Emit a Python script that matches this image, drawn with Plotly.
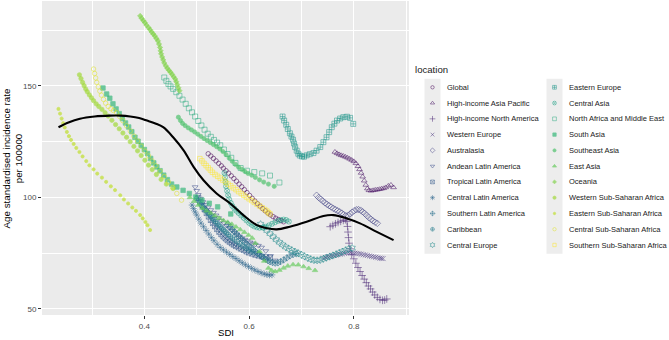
import plotly.graph_objects as go
from plotly.colors import sample_colorscale

# ---------------- data ----------------
locations = [
    "Global", "High-income Asia Pacific", "High-income North America", "Western Europe",
    "Australasia", "Andean Latin America", "Tropical Latin America", "Central Latin America",
    "Southern Latin America", "Caribbean", "Central Europe", "Eastern Europe", "Central Asia",
    "North Africa and Middle East", "South Asia", "Southeast Asia", "East Asia", "Oceania",
    "Western Sub-Saharan Africa", "Eastern Sub-Saharan Africa", "Central Sub-Saharan Africa",
    "Southern Sub-Saharan Africa",
]

sdi_global = [0.522,0.527,0.532,0.537,0.542,0.547,0.551,0.556,0.561,0.566,0.571,0.576,0.581,0.586,0.591,0.596,0.601,0.606,0.611,0.616,0.621,0.626,0.631,0.636,0.641,0.646,0.651,0.656,0.661,0.666]
asir_global = [119.6,118.6,117.5,116.4,115.3,114.2,113.1,112.0,110.9,109.7,108.5,107.3,106.0,104.8,103.5,102.2,100.9,99.6,98.4,97.2,96.1,95.0,94.0,93.0,92.2,91.4,90.7,90.1,89.6,89.1]

sdi_hiap = [0.764,0.768,0.772,0.776,0.780,0.784,0.788,0.792,0.796,0.800,0.804,0.808,0.811,0.814,0.817,0.820,0.823,0.826,0.829,0.833,0.837,0.841,0.845,0.849,0.853,0.857,0.861,0.866,0.871,0.876]
asir_hiap = [120.4,119.8,119.3,118.9,118.6,118.2,117.8,117.3,116.8,116.2,115.3,114.0,112.6,111.0,109.3,107.5,105.6,104.0,103.2,103.0,103.2,103.4,103.5,103.7,103.9,104.1,104.5,105.2,105.6,104.5]

sdi_hina = [0.755,0.760,0.765,0.770,0.775,0.780,0.784,0.787,0.788,0.789,0.790,0.791,0.793,0.796,0.800,0.804,0.808,0.812,0.816,0.820,0.824,0.828,0.832,0.836,0.840,0.845,0.850,0.855,0.859,0.863]
asir_hina = [86.9,87.5,88.2,88.8,89.3,89.7,90.0,89.2,87.0,84.5,82.0,79.5,77.0,74.5,72.5,70.5,68.6,66.8,65.0,63.4,61.8,60.3,59.0,57.6,56.3,55.2,54.3,53.9,54.0,54.5]

sdi_weu = [0.742,0.746,0.750,0.754,0.758,0.762,0.766,0.770,0.774,0.778,0.782,0.786,0.790,0.794,0.798,0.802,0.806,0.810,0.814,0.818,0.822,0.826,0.830,0.834,0.838,0.842,0.846,0.850,0.853,0.856]
asir_weu = [72.8,73.1,73.4,73.6,73.8,74.0,74.2,74.4,74.6,74.8,75.0,75.1,75.2,75.2,75.1,75.0,74.9,74.8,74.6,74.4,74.2,74.0,73.8,73.6,73.4,73.2,73.0,72.8,72.7,72.6]

sdi_aus = [0.729,0.733,0.737,0.741,0.745,0.749,0.753,0.757,0.761,0.765,0.769,0.773,0.777,0.781,0.785,0.789,0.793,0.797,0.801,0.805,0.809,0.813,0.817,0.821,0.825,0.829,0.833,0.837,0.841,0.845]
asir_aus = [101.0,100.0,99.2,98.4,97.6,96.9,96.3,95.7,95.1,94.6,94.1,93.6,93.0,92.3,91.8,91.9,92.6,93.4,94.1,94.5,94.6,94.3,93.6,92.8,91.9,91.0,90.2,89.5,88.9,88.4]

sdi_andean = [0.497,0.500,0.503,0.507,0.512,0.517,0.522,0.527,0.532,0.537,0.542,0.547,0.552,0.557,0.562,0.567,0.572,0.577,0.582,0.587,0.592,0.597,0.602,0.607,0.612,0.618,0.624,0.632,0.641,0.650]
asir_andean = [104.7,103.0,101.2,99.5,98.0,96.8,95.6,94.4,93.2,92.0,90.8,89.6,88.5,87.4,86.3,85.3,84.4,83.5,82.6,81.8,81.1,80.5,79.9,79.4,78.9,78.4,77.6,76.0,73.8,71.8]

sdi_tropical = [0.503,0.507,0.511,0.515,0.519,0.523,0.527,0.531,0.535,0.539,0.543,0.547,0.551,0.555,0.559,0.563,0.567,0.571,0.575,0.580,0.585,0.590,0.595,0.600,0.606,0.612,0.618,0.625,0.632,0.640]
asir_tropical = [99.8,98.0,96.3,94.6,93.0,91.4,89.9,88.5,87.1,85.8,84.6,83.5,82.5,81.6,80.8,80.1,79.4,78.8,78.2,77.6,77.0,76.4,75.8,75.3,74.8,74.3,73.9,73.5,73.2,73.0]

sdi_central_la = [0.491,0.494,0.497,0.500,0.504,0.508,0.513,0.518,0.523,0.528,0.533,0.539,0.545,0.551,0.557,0.563,0.569,0.575,0.581,0.587,0.593,0.599,0.605,0.611,0.617,0.623,0.629,0.634,0.639,0.644]
asir_central_la = [96.6,95.0,93.5,92.1,90.3,88.5,86.9,85.2,83.6,82.0,80.6,79.0,77.6,76.5,75.5,74.5,73.5,72.6,71.6,70.7,69.8,69.0,68.2,67.5,66.8,66.2,65.7,65.4,65.2,65.3]

sdi_southern_la = [0.560,0.564,0.568,0.572,0.576,0.580,0.584,0.588,0.592,0.596,0.600,0.604,0.608,0.612,0.616,0.620,0.624,0.628,0.632,0.636,0.640,0.645,0.650,0.655,0.660,0.666,0.672,0.678,0.684,0.690]
asir_southern_la = [88.0,86.8,85.7,84.6,83.6,82.6,81.7,80.8,79.9,79.0,78.2,77.4,76.6,75.8,75.0,74.3,73.6,72.9,72.3,71.7,71.2,70.8,70.6,70.7,71.2,72.0,72.9,73.8,74.4,74.8]

sdi_caribbean = [0.500,0.503,0.506,0.509,0.512,0.515,0.518,0.521,0.524,0.527,0.530,0.533,0.536,0.539,0.542,0.545,0.548,0.551,0.554,0.557,0.560,0.564,0.568,0.572,0.577,0.582,0.588,0.594,0.600,0.606]
asir_caribbean = [99.5,98.5,97.5,96.6,95.7,94.8,94.0,93.2,92.4,91.6,90.8,90.0,89.2,88.4,87.6,86.9,86.2,85.5,84.8,84.1,83.4,82.6,81.8,81.0,80.1,79.2,78.2,77.3,76.4,75.6]

sdi_central_eu = [0.622,0.628,0.634,0.640,0.646,0.652,0.658,0.664,0.670,0.676,0.682,0.688,0.694,0.700,0.706,0.712,0.718,0.724,0.730,0.736,0.742,0.748,0.754,0.760,0.766,0.772,0.778,0.784,0.790,0.797]
asir_central_eu = [88.0,86.6,85.2,83.8,82.4,81.1,79.9,78.8,77.8,77.0,76.3,75.6,75.0,74.3,73.6,72.9,72.3,71.9,71.8,72.0,72.5,73.0,73.5,74.0,74.5,75.1,75.7,76.3,76.9,77.3]

sdi_eastern_eu = [0.664,0.667,0.671,0.674,0.678,0.681,0.684,0.686,0.688,0.691,0.694,0.697,0.701,0.705,0.710,0.716,0.723,0.729,0.736,0.742,0.748,0.753,0.758,0.763,0.768,0.774,0.780,0.787,0.793,0.799]
asir_eastern_eu = [136.3,134.5,132.6,130.7,128.8,127.3,125.9,124.2,122.6,121.0,119.6,118.8,118.4,118.3,118.9,119.4,119.9,121.0,122.6,124.8,127.0,129.3,131.5,133.1,134.5,135.4,136.0,136.2,135.7,133.0]

sdi_central_asia = [0.553,0.554,0.555,0.556,0.558,0.560,0.562,0.565,0.568,0.572,0.576,0.580,0.585,0.590,0.595,0.600,0.605,0.610,0.615,0.620,0.626,0.632,0.638,0.644,0.650,0.656,0.661,0.666,0.671,0.676]
asir_central_asia = [111.0,109.0,107.0,105.0,103.0,101.0,99.2,97.6,96.2,95.0,94.0,93.0,91.9,90.8,89.7,88.6,87.7,87.0,86.6,86.4,86.5,86.9,87.5,88.2,88.9,89.5,89.9,90.1,89.9,89.2]

sdi_name = [0.438,0.442,0.446,0.450,0.455,0.461,0.467,0.473,0.479,0.485,0.491,0.497,0.503,0.509,0.515,0.521,0.527,0.533,0.539,0.545,0.552,0.559,0.566,0.574,0.584,0.596,0.610,0.625,0.640,0.658]
asir_name = [153.8,152.3,150.9,149.8,148.7,147.2,145.6,143.9,142.0,140.0,138.2,136.3,134.3,132.3,130.4,128.6,127.2,125.8,124.6,123.4,121.5,119.5,117.8,115.5,113.2,112.0,111.4,110.8,109.8,106.7]

sdi_south_asia = [0.321,0.328,0.334,0.340,0.346,0.352,0.358,0.364,0.370,0.376,0.382,0.388,0.394,0.400,0.406,0.412,0.418,0.424,0.430,0.437,0.444,0.452,0.462,0.474,0.486,0.498,0.510,0.524,0.540,0.565]
asir_south_asia = [149.1,146.4,144.5,142.0,139.7,137.6,135.4,133.4,131.6,129.5,127.0,125.2,123.3,121.5,119.7,117.5,115.5,113.7,112.0,110.0,108.0,106.0,104.7,103.2,101.8,100.2,98.8,97.4,95.8,92.6]

sdi_se_asia = [0.465,0.469,0.473,0.478,0.484,0.490,0.496,0.502,0.508,0.514,0.520,0.526,0.532,0.538,0.544,0.550,0.556,0.562,0.568,0.574,0.580,0.586,0.592,0.598,0.605,0.612,0.620,0.628,0.637,0.648]
asir_se_asia = [136.0,134.5,133.2,132.2,131.2,130.3,129.4,128.4,127.4,126.4,125.5,124.6,123.7,122.8,121.8,120.6,119.2,117.7,116.2,114.8,113.6,112.6,111.7,110.8,110.0,109.0,107.9,106.9,106.0,105.0]

sdi_east_asia = [0.487,0.495,0.503,0.511,0.519,0.527,0.535,0.543,0.551,0.559,0.567,0.575,0.583,0.591,0.599,0.606,0.612,0.620,0.629,0.637,0.643,0.650,0.658,0.666,0.674,0.684,0.694,0.704,0.714,0.726]
asir_east_asia = [100.0,98.3,96.6,95.2,94.0,93.0,91.8,90.7,89.7,88.9,88.0,86.8,85.6,84.4,83.1,81.8,79.5,75.8,71.5,68.3,67.3,66.8,67.4,68.4,69.3,69.9,69.8,69.0,68.2,67.3]

sdi_oceania = [0.392,0.395,0.398,0.401,0.404,0.408,0.411,0.414,0.417,0.420,0.423,0.426,0.428,0.430,0.431,0.432,0.434,0.436,0.438,0.441,0.444,0.447,0.450,0.453,0.456,0.459,0.461,0.463,0.465,0.467]
asir_oceania = [181.4,180.3,179.3,178.4,177.3,176.2,175.2,174.2,173.3,172.4,171.3,170.2,168.8,167.3,165.8,164.4,163.0,161.7,160.3,159.0,157.9,157.0,156.1,155.2,154.1,153.1,151.9,150.6,149.2,147.9]

sdi_wssa = [0.276,0.279,0.282,0.285,0.288,0.291,0.295,0.299,0.303,0.308,0.313,0.319,0.325,0.331,0.338,0.345,0.352,0.359,0.366,0.373,0.380,0.387,0.394,0.401,0.408,0.415,0.423,0.432,0.442,0.455]
asir_wssa = [155.0,153.3,151.6,150.1,148.6,147.4,146.0,144.7,143.4,142.0,140.8,139.5,138.0,136.5,134.6,132.7,130.8,128.9,127.0,125.0,122.9,120.9,118.8,116.7,114.5,112.5,110.3,108.1,106.0,104.0]

sdi_essa = [0.236,0.239,0.242,0.245,0.248,0.252,0.256,0.260,0.265,0.270,0.276,0.282,0.289,0.295,0.303,0.310,0.319,0.327,0.336,0.344,0.354,0.361,0.369,0.377,0.384,0.392,0.397,0.402,0.406,0.411]
asir_essa = [139.7,137.6,135.4,133.3,131.4,129.4,127.5,125.8,124.0,122.2,120.4,118.4,116.3,114.4,112.6,110.7,108.9,107.0,105.0,103.3,101.0,99.1,97.3,95.5,94.0,92.1,90.6,89.0,87.6,85.4]

sdi_cssa = [0.303,0.305,0.307,0.309,0.312,0.315,0.318,0.322,0.326,0.331,0.336,0.341,0.347,0.353,0.359,0.366,0.373,0.380,0.387,0.394,0.401,0.408,0.415,0.422,0.430,0.438,0.446,0.454,0.462,0.471]
asir_cssa = [157.6,155.6,153.6,151.6,149.6,147.7,145.9,144.0,142.3,140.8,139.8,139.0,138.0,136.3,134.4,132.1,129.8,127.5,125.3,123.0,120.8,118.6,116.4,114.2,111.8,109.4,107.0,104.5,101.8,98.8]

sdi_sssa = [0.506,0.510,0.514,0.518,0.522,0.526,0.530,0.535,0.540,0.545,0.550,0.555,0.560,0.565,0.570,0.575,0.580,0.585,0.590,0.595,0.600,0.605,0.610,0.615,0.620,0.625,0.630,0.634,0.637,0.640]
asir_sssa = [117.4,116.4,115.3,114.3,113.3,112.3,111.3,110.3,109.5,108.7,107.8,106.9,106.0,105.2,104.3,103.5,102.6,101.8,101.0,100.2,99.4,98.6,97.8,97.0,96.2,95.4,94.6,93.9,93.2,92.6]

smooth_sdi = [0.236,0.255,0.277,0.305,0.334,0.355,0.373,0.390,0.405,0.421,0.436,0.455,0.475,0.494,0.513,0.538,0.564,0.589,0.615,0.634,0.653,0.678,0.710,0.742,0.761,0.787,0.812,0.844,0.876]
smooth_asir = [131.5,133.6,135.3,136.3,136.7,136.7,136.3,135.6,134.5,133.2,131.5,127.0,121.1,113.7,107.7,101.8,97.3,92.1,87.6,86.2,85.7,86.9,89.1,91.7,92.1,90.6,88.4,84.6,80.9]

x_ticks = [0.4, 0.6, 0.8]
x_tick_labels = ["0.4", "0.6", "0.8"]
x_minor_ticks = [0.3, 0.5, 0.7, 0.9]
y_ticks = [50, 100, 150]
y_tick_labels = ["50", "100", "150"]
y_minor_ticks = [75, 125, 175]

series_sdi = [sdi_global, sdi_hiap, sdi_hina, sdi_weu, sdi_aus, sdi_andean, sdi_tropical,
              sdi_central_la, sdi_southern_la, sdi_caribbean, sdi_central_eu, sdi_eastern_eu,
              sdi_central_asia, sdi_name, sdi_south_asia, sdi_se_asia, sdi_east_asia,
              sdi_oceania, sdi_wssa, sdi_essa, sdi_cssa, sdi_sssa]
series_asir = [asir_global, asir_hiap, asir_hina, asir_weu, asir_aus, asir_andean, asir_tropical,
               asir_central_la, asir_southern_la, asir_caribbean, asir_central_eu, asir_eastern_eu,
               asir_central_asia, asir_name, asir_south_asia, asir_se_asia, asir_east_asia,
               asir_oceania, asir_wssa, asir_essa, asir_cssa, asir_sssa]

# ---------------- styles ----------------
colors = sample_colorscale("Viridis", [i / 21 for i in range(22)])
symbols = ["circle-open", "triangle-up-open", "cross-thin-open", "x-thin-open", "diamond-open",
           "triangle-down-open", "square-x-open", "asterisk-open", "diamond-cross-open",
           "circle-cross-open", "hexagram-open", "square-cross-open", "circle-x-open",
           "square-open", "square", "circle", "triangle-up", "diamond", "circle", "circle",
           "circle-open", "square-open"]
sizes = [4.5, 5, 5.5, 5, 5, 5, 5, 5.5, 5, 5, 5.5, 5, 5, 5, 4.5, 4.2, 4.8, 4, 4.3, 3.2, 4.5, 4.5]
leg_sizes = [s * 0.75 for s in sizes]

W, H = 669, 340
PL, PR, PT, PB = 42, 409, 1, 315
FONT = "Liberation Sans, Arial, sans-serif"

fig = go.Figure()

# background panel
fig.add_shape(type="rect", xref="x domain", yref="y domain", x0=0, x1=1, y0=0, y1=1,
              fillcolor="#EBEBEB", line_width=0, layer="below")

for i, loc in enumerate(locations):
    fig.add_trace(go.Scatter(
        x=series_sdi[i], y=series_asir[i], mode="markers", name=loc, showlegend=False,
        marker=dict(symbol=symbols[i], size=sizes[i], color=colors[i], opacity=0.7,
                    line=dict(width=0.75, color=colors[i])),
        xaxis="x", yaxis="y"))

fig.add_trace(go.Scatter(x=smooth_sdi, y=smooth_asir, mode="lines", showlegend=False,
                         line=dict(color="black", width=2.1, shape="spline", smoothing=1.0),
                         xaxis="x", yaxis="y"))

# ---------------- custom two-column legend ----------------
n_rows = 11
col_px = [432.5, 554.5]
row0_px, row_step = 87.3, 15.77
unit_x = col_px[1] - col_px[0]
x2_range = [-col_px[0] / unit_x, (W - col_px[0]) / unit_x]
y2_range = [(H - row0_px) / row_step, -row0_px / row_step]

leg_col = [i // n_rows for i in range(len(locations))]
leg_row = [i % n_rows for i in range(len(locations))]

key_half = 8.0 / unit_x
for c in range(2):
    fig.add_shape(type="rect", xref="x2", yref="y2", x0=c - key_half, x1=c + key_half,
                  y0=-0.55, y1=n_rows - 0.45, fillcolor="#EDEDED", line_width=0, layer="below")

fig.add_trace(go.Scatter(
    x=leg_col, y=leg_row, mode="markers", showlegend=False, hoverinfo="skip",
    marker=dict(symbol=symbols, size=leg_sizes, color=colors, opacity=0.7,
                line=dict(width=0.7, color=colors)),
    xaxis="x2", yaxis="y2"))

for i, loc in enumerate(locations):
    fig.add_annotation(x=leg_col[i] + 12.5 / unit_x, y=leg_row[i], xref="x2", yref="y2",
                       text=loc, showarrow=False, xanchor="left", yanchor="middle",
                       font=dict(family=FONT, size=7.5, color="#1A1A1A"))

fig.add_annotation(x=413 / W, y=1 - 70 / H, xref="paper", yref="paper", text="location",
                   showarrow=False, xanchor="left", yanchor="middle",
                   font=dict(family=FONT, size=9.6, color="#1A1A1A"))

# axis titles
fig.add_annotation(x=(PL + PR) / 2 / W, y=1 - 332.5 / H, xref="paper", yref="paper", text="SDI",
                   showarrow=False, xanchor="center", yanchor="middle",
                   font=dict(family=FONT, size=9.6, color="#000000"))
fig.add_annotation(x=12.5 / W, y=1 - 158 / H, xref="paper", yref="paper",
                   text="Age standardised incidence rate<br>per 100000", textangle=-90,
                   showarrow=False, xanchor="center", yanchor="middle",
                   font=dict(family=FONT, size=9.8, color="#000000"))

fig.update_layout(
    width=W, height=H, margin=dict(l=0, r=0, t=0, b=0),
    paper_bgcolor="white", plot_bgcolor="rgba(0,0,0,0)", showlegend=False,
    font=dict(family=FONT),
    xaxis=dict(domain=[PL / W, PR / W], range=[0.2045, 0.9055], tickvals=x_ticks,
               ticktext=x_tick_labels, showgrid=True, gridcolor="white", gridwidth=1.1,
               zeroline=False, showline=False, ticks="outside", ticklen=3, tickwidth=1,
               tickcolor="#333333", tickfont=dict(size=8, color="#4D4D4D", family=FONT),
               minor=dict(tickvals=x_minor_ticks, showgrid=True, gridcolor="white",
                          gridwidth=0.5, ticks=""),
               anchor="y", fixedrange=True),
    yaxis=dict(domain=[1 - PB / H, 1 - PT / H], range=[47.3, 188.1], tickvals=y_ticks,
               ticktext=y_tick_labels, showgrid=True, gridcolor="white", gridwidth=1.1,
               zeroline=False, showline=False, ticks="outside", ticklen=3, tickwidth=1,
               tickcolor="#333333", tickfont=dict(size=8, color="#4D4D4D", family=FONT),
               minor=dict(tickvals=y_minor_ticks, showgrid=True, gridcolor="white",
                          gridwidth=0.5, ticks=""),
               anchor="x", fixedrange=True),
    xaxis2=dict(domain=[0, 1], range=x2_range, visible=False, anchor="y2", fixedrange=True),
    yaxis2=dict(domain=[0, 1], range=y2_range, visible=False, anchor="x2", fixedrange=True),
)

fig.write_html("out.html", config={"displayModeBar": False},
               post_script="document.body.style.margin='0';document.body.style.overflow='hidden';")
